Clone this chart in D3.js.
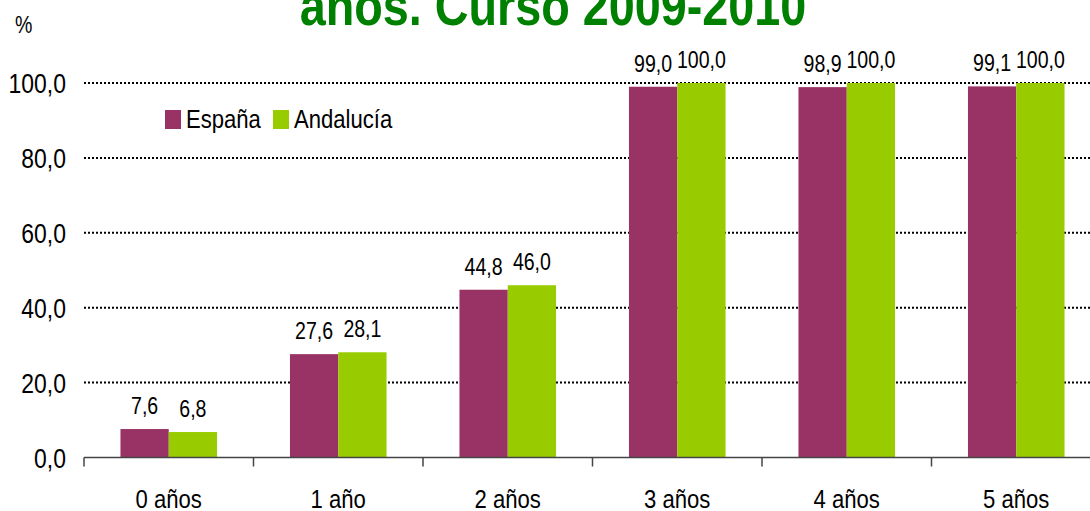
<!DOCTYPE html>
<html><head><meta charset="utf-8">
<script src="https://cdn.jsdelivr.net/npm/d3@7/dist/d3.min.js"></script>
<style>html,body{margin:0;padding:0;background:#fff;overflow:hidden}svg{display:block}text{font-family:"Liberation Sans",Arial,sans-serif}</style>
</head><body>
<svg id="c" width="1090" height="511"></svg>
<script>
const categories = ["0 años","1 año","2 años","3 años","4 años","5 años"];
const seriesNames = ["España","Andalucía"];
const espana = [7.6, 27.6, 44.8, 99.0, 98.9, 99.1];
const andalucia = [6.8, 28.1, 46.0, 100.0, 100.0, 100.0];
const yTicks = [0, 20, 40, 60, 80, 100];
const titleText = "años. Curso 2009-2010";
const colors = {"España":"#993366","Andalucía":"#99CC00"};
const SX = 0.85;

const svg = d3.select("#c");
const fmt = v => d3.format(".1f")(v).replace(".", ",");

const y = d3.scaleLinear().domain([0,100]).range([457.5, 83]);
const x0 = d3.scaleBand().domain(categories).range([84, 1101]).paddingInner(0).paddingOuter(0);
const x1 = d3.scaleBand().domain(seriesNames).range([0, x0.bandwidth()]).paddingInner(0).paddingOuter(0.755);

function sqText(g, x, yy, txt, size, anchor, opts={}) {
  const t = g.append("text")
    .attr("transform", `translate(${x},${yy}) scale(${SX},1)`)
    .attr("text-anchor", anchor)
    .attr("font-size", size)
    .attr("fill", opts.fill || "#000")
    .text(txt);
  if (opts.bold) t.attr("font-weight", "bold");
  return t;
}

// title (top lines clipped)
sqText(svg, 553, 24.5, titleText, 55, "middle", {fill:"#008000", bold:true});
// % label
sqText(svg, 15, 33, "%", 23, "start");

// gridlines
svg.append("g").selectAll("line").data(yTicks.filter(d => d > 0)).join("line")
  .attr("x1", 84).attr("x2", 1090)
  .attr("y1", d => y(d)).attr("y2", d => y(d))
  .attr("stroke", "#000").attr("stroke-width", 2).attr("stroke-dasharray", "2,2");

// y tick labels
const yl = svg.append("g");
yTicks.forEach(d => sqText(yl, 66, y(d) + 10, fmt(d), 27, "end"));

// bars
const data = categories.map((c, i) => ({cat: c, values: [
  {s: "España", v: espana[i]}, {s: "Andalucía", v: andalucia[i]}]}));
const groups = svg.append("g").selectAll("g").data(data).join("g")
  .attr("transform", d => `translate(${x0(d.cat)},0)`);
groups.selectAll("rect").data(d => d.values).join("rect")
  .attr("x", d => x1(d.s)).attr("width", x1.bandwidth())
  .attr("y", d => y(d.v)).attr("height", d => y(0) - y(d.v))
  .attr("fill", d => colors[d.s]);
groups.each(function(d) {
  const g = d3.select(this);
  d.values.forEach(v => sqText(g, x1(v.s) + x1.bandwidth()/2, y(v.v) - 15, fmt(v.v), 23, "middle"));
});

// x axis
const ax = svg.append("g");
ax.append("line").attr("x1", 84).attr("x2", 1090).attr("y1", y(0)).attr("y2", y(0))
  .attr("stroke", "#444").attr("stroke-width", 1.5);
ax.selectAll("line.tick").data(categories.concat(["__end"])).join("line").attr("class","tick")
  .attr("x1", d => d === "__end" ? x0.range()[1] : x0(d))
  .attr("x2", d => d === "__end" ? x0.range()[1] : x0(d))
  .attr("y1", y(0)).attr("y2", y(0) + 9)
  .attr("stroke", "#444").attr("stroke-width", 1.5);
categories.forEach(c => sqText(ax, x0(c) + x0.bandwidth()/2, 508, c, 26, "middle"));

// legend
const lg = svg.append("g");
const legendPos = [{s:"España", x:165}, {s:"Andalucía", x:273}];
legendPos.forEach(p => {
  lg.append("rect").attr("x", p.x).attr("y", 110).attr("width", 16).attr("height", 19).attr("fill", colors[p.s]);
  sqText(lg, p.x + 21, 128, p.s, 26, "start");
});
</script>
</body></html>
